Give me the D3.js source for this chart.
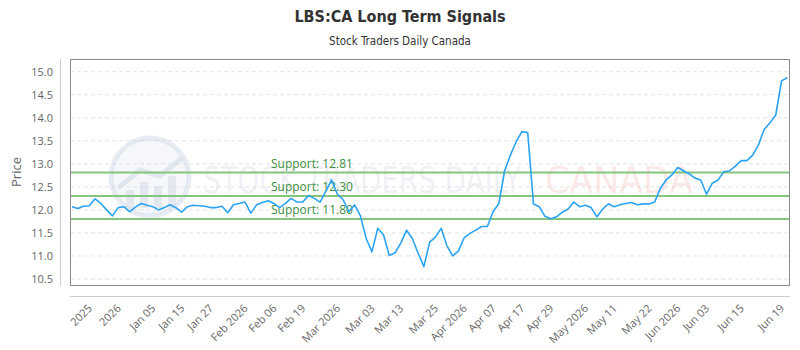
<!DOCTYPE html>
<html>
<head>
<meta charset="utf-8">
<script src="https://cdn.jsdelivr.net/npm/d3@7"></script>
<style>
  html, body { margin: 0; padding: 0; background: #fff; }
  svg { display: block; }
</style>
</head>
<body>
<div id="chart"></div>
<script>
// ---- data ----
const titleText = "LBS:CA Long Term Signals";
const subtitleText = "Stock Traders Daily Canada";
const prices = [
  12.07, 12.03, 12.08, 12.09, 12.24, 12.14, 12.00, 11.87, 12.05, 12.07,
  11.96, 12.06, 12.14, 12.10, 12.07, 12.00, 12.05, 12.11, 12.05, 11.95,
  12.07, 12.10, 12.09, 12.08, 12.05, 12.05, 12.08, 11.94, 12.11, 12.14,
  12.17, 11.93, 12.11, 12.16, 12.20, 12.14, 12.05, 12.14, 12.25, 12.17,
  12.17, 12.31, 12.25, 12.17, 12.40, 12.65, 12.34, 12.22, 11.96, 12.11,
  11.87, 11.38, 11.09, 11.60, 11.46, 11.01, 11.07, 11.28, 11.56, 11.38,
  11.06, 10.77, 11.30, 11.41, 11.60, 11.22, 11.00, 11.11, 11.40, 11.49,
  11.56, 11.64, 11.64, 11.96, 12.14, 12.85, 13.19, 13.48, 13.70, 13.68,
  12.13, 12.07, 11.86, 11.81, 11.85, 11.95, 12.02, 12.17, 12.07, 12.10,
  12.05, 11.85, 12.02, 12.13, 12.07, 12.11, 12.14, 12.16, 12.11, 12.13,
  12.13, 12.17, 12.47, 12.65, 12.76, 12.92, 12.85, 12.78, 12.69, 12.65,
  12.34, 12.58, 12.65, 12.83, 12.85, 12.95, 13.07, 13.07, 13.19, 13.41,
  13.75, 13.89, 14.06, 14.80, 14.87
];
const xTickIndex = [3, 8, 14, 19, 24, 30, 35, 40, 46, 52, 57, 63, 68, 73, 78, 83, 89, 94, 100, 105, 110, 116, 123];
const xTickLabels = ["2025", "2026", "Jan 05", "Jan 15", "Jan 27", "Feb 2026", "Feb 06", "Feb 19", "Mar 2026",
  "Mar 03", "Mar 13", "Mar 25", "Apr 2026", "Apr 07", "Apr 17", "Apr 29", "May 2026", "May 11", "May 22",
  "Jun 2026", "Jun 03", "Jun 15", "Jun 19"];
const yTickValues = [10.5, 11.0, 11.5, 12.0, 12.5, 13.0, 13.5, 14.0, 14.5, 15.0];
const supportLevels = [12.81, 12.30, 11.80];
const yAxisTitle = "Price";

// ---- layout ----
const W = 800, H = 350;
const plot = { left: 70, right: 790, top: 59, bottom: 285 };

const svg = d3.select("#chart").append("svg")
  .attr("width", W).attr("height", H)
  .style("font-family", "'Open Sans', sans-serif");

const x = d3.scaleLinear().domain([0, prices.length - 1]).range([72, 787.3]);
const y = d3.scaleLinear().domain([10.5, 15.0]).range([279, 71.7]);

// title
svg.append("text").attr("x", 400).attr("y", 22).attr("text-anchor", "middle")
  .style("font-family", "'DejaVu Sans Condensed', 'DejaVu Sans', sans-serif")
  .style("font-stretch", "condensed")
  .style("font-weight", "bold").style("font-size", "16px").attr("fill", "#333")
  .text(titleText);
svg.append("text").attr("x", 400).attr("y", 45).attr("text-anchor", "middle")
  .style("font-family", "'DejaVu Sans Condensed', 'DejaVu Sans', sans-serif")
  .style("font-stretch", "condensed")
  .style("font-size", "11.5px").attr("fill", "#333")
  .text(subtitleText);

// gridlines
svg.append("g").selectAll("line").data(yTickValues).join("line")
  .attr("x1", plot.left).attr("x2", plot.right)
  .attr("y1", d => y(d)).attr("y2", d => y(d))
  .attr("stroke", "#e3e3e3").attr("stroke-dasharray", "4,3").attr("stroke-width", 1);

// watermark
const wm = svg.append("g").attr("opacity", 1);
wm.append("circle").attr("cx", 150).attr("cy", 177).attr("r", 39)
  .attr("fill", "rgba(225,232,242,0.35)").attr("stroke", "rgba(205,215,230,0.45)").attr("stroke-width", 5);
wm.append("path").attr("d", "M118,188 L140,170 L160,176 L182,158")
  .attr("fill", "none").attr("stroke", "rgba(200,210,225,0.45)").attr("stroke-width", 5);
[[126, 190, 8, 18], [140, 182, 8, 26], [154, 186, 8, 22], [168, 176, 8, 32]].forEach(b => {
  wm.append("rect").attr("x", b[0]).attr("y", b[1]).attr("width", b[2]).attr("height", b[3])
    .attr("fill", "rgba(200,210,225,0.4)");
});
wm.append("text").attr("x", 203).attr("y", 193)
  .attr("textLength", 318).attr("lengthAdjust", "spacingAndGlyphs")
  .style("font-family", "'DejaVu Sans Condensed', sans-serif").style("font-size", "38px")
  .attr("fill", "rgba(200,208,222,0.28)").text("STOCK TRADERS DAILY");
wm.append("text").attr("x", 545).attr("y", 193)
  .attr("textLength", 148).attr("lengthAdjust", "spacingAndGlyphs")
  .style("font-family", "'DejaVu Sans Condensed', sans-serif").style("font-size", "38px")
  .attr("fill", "rgba(245,150,150,0.22)").text("CANADA");

// plot border
svg.append("rect").attr("x", plot.left + 0.5).attr("y", plot.top + 0.5)
  .attr("width", plot.right - plot.left - 1).attr("height", plot.bottom - plot.top)
  .attr("fill", "none").attr("stroke", "#8a8a8a").attr("stroke-width", 1);

// axes lines (offset)
svg.append("line").attr("x1", 60.5).attr("x2", 60.5).attr("y1", plot.top).attr("y2", plot.bottom + 1)
  .attr("stroke", "#ccc");
svg.append("line").attr("x1", plot.left).attr("x2", plot.right).attr("y1", 296.5).attr("y2", 296.5)
  .attr("stroke", "#ccc");

// y axis labels
svg.append("g").selectAll("text").data(yTickValues).join("text")
  .attr("x", 53).attr("y", d => y(d) + 4).attr("text-anchor", "end")
  .style("font-size", "11px").attr("fill", "#666")
  .text(d => d3.format(".1f")(d));

svg.append("text").attr("transform", "translate(21,172) rotate(-90)")
  .attr("text-anchor", "middle").style("font-size", "13px").attr("fill", "#666")
  .text(yAxisTitle);

// x axis labels
svg.append("g").selectAll("text").data(xTickIndex).join("text")
  .attr("transform", d => `translate(${x(d) + 3.5},309) rotate(-45)`)
  .attr("text-anchor", "end").style("font-size", "11px").attr("fill", "#666")
  .text((d, i) => xTickLabels[i]);

// support lines
const sup = svg.append("g");
sup.selectAll("line").data(supportLevels).join("line")
  .attr("x1", plot.left + 1).attr("x2", plot.right - 1)
  .attr("y1", d => y(d)).attr("y2", d => y(d))
  .attr("stroke", "#85c47c").attr("stroke-width", 2);
sup.selectAll("text").data(supportLevels).join("text")
  .attr("x", 271).attr("y", d => y(d) - 5)
  .style("font-size", "12px").attr("fill", "#3f8f3f")
  .text(d => "Support: " + d.toFixed(2));

// price line
const line = d3.line().x((d, i) => x(i)).y(d => y(d));
svg.append("path").datum(prices).attr("d", line)
  .attr("fill", "none").attr("stroke", "#2ba3f3").attr("stroke-width", 1.6)
  .attr("stroke-linejoin", "round");
</script>
</body>
</html>
